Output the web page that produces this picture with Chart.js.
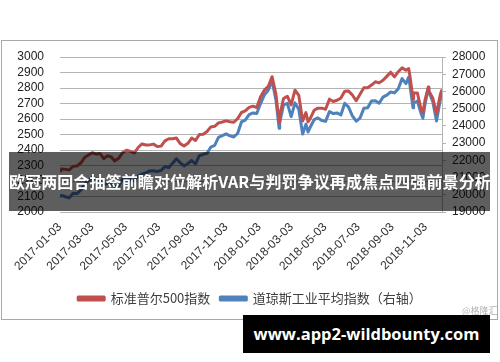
<!DOCTYPE html>
<html>
<head>
<meta charset="utf-8">
<script src="https://cdn.jsdelivr.net/npm/chart.js@4.4.0/dist/chart.umd.min.js"></script>
<style>
  html, body { margin: 0; padding: 0; background: #fff; }
  #wrap { position: relative; width: 500px; height: 362px; overflow: hidden; }
  #frame { position: absolute; left: 1px; top: 40px; width: 497px; height: 280px; box-sizing: border-box; border: 1px solid #a8a8a8; }
  #chart { position: absolute; left: 0; top: 0; }
  #banner { position: absolute; left: 9px; top: 152px; width: 481px; height: 59px; background: rgba(0, 0, 0, 0.63);
    color: #fff; font: bold 16px "Noto Sans CJK SC", sans-serif; line-height: 59px; white-space: nowrap; text-align: center; letter-spacing: 0.1px; }
  #site { position: absolute; left: 243px; top: 315px; width: 247px; height: 38px; background: #000;
    color: #fff; font: bold 16.5px "Open Sans", "Liberation Sans", sans-serif; line-height: 38px; text-align: center; white-space: nowrap; }
  #mark { position: absolute; left: 462px; top: 306px; color: #b0b0b0; font: 9px/9px "Noto Sans CJK SC", sans-serif; }
</style>
</head>
<body>
<div id="wrap">
  <div id="frame"></div>
  <canvas id="chart" width="500" height="362"></canvas>
  <div id="mark">@格隆汇</div>
  <div id="banner">欧冠两回合抽签前瞻对位解析VAR与判罚争议再成焦点四强前景分析</div>
  <div id="site">www.app2-wildbounty.com</div>
</div>
<script>
// weekly closes (plus a few turning points)
const dates = [
  '2017-01-03', '2017-01-06', '2017-01-13', '2017-01-20', '2017-01-27', '2017-02-03', '2017-02-10', '2017-02-17',
  '2017-02-24', '2017-03-03', '2017-03-10', '2017-03-17', '2017-03-24', '2017-03-31', '2017-04-07', '2017-04-13',
  '2017-04-21', '2017-04-28', '2017-05-05', '2017-05-12', '2017-05-19', '2017-05-26', '2017-06-02', '2017-06-09',
  '2017-06-16', '2017-06-23', '2017-06-30', '2017-07-07', '2017-07-14', '2017-07-21', '2017-07-28', '2017-08-04',
  '2017-08-11', '2017-08-18', '2017-08-25', '2017-09-01', '2017-09-08', '2017-09-15', '2017-09-22', '2017-09-29',
  '2017-10-06', '2017-10-13', '2017-10-20', '2017-10-27', '2017-11-03', '2017-11-10', '2017-11-17', '2017-11-24',
  '2017-12-01', '2017-12-08', '2017-12-15', '2017-12-22', '2017-12-29',
  '2018-01-05', '2018-01-12', '2018-01-19', '2018-01-26', '2018-02-02', '2018-02-08', '2018-02-09', '2018-02-16',
  '2018-02-23', '2018-03-02', '2018-03-09', '2018-03-16', '2018-03-23', '2018-03-29', '2018-04-02', '2018-04-06',
  '2018-04-13', '2018-04-20', '2018-04-27', '2018-05-04', '2018-05-11', '2018-05-18', '2018-05-25', '2018-06-01',
  '2018-06-08', '2018-06-15', '2018-06-22', '2018-06-29', '2018-07-06', '2018-07-13', '2018-07-20', '2018-07-27',
  '2018-08-03', '2018-08-10', '2018-08-17', '2018-08-24', '2018-08-31', '2018-09-07', '2018-09-14', '2018-09-21',
  '2018-09-28', '2018-10-03', '2018-10-05', '2018-10-11', '2018-10-12', '2018-10-19', '2018-10-26', '2018-10-29',
  '2018-11-02', '2018-11-08', '2018-11-09', '2018-11-16', '2018-11-23', '2018-11-30', '2018-12-03',
];
const sp500 = [
  2258, 2277, 2275, 2271, 2295, 2297, 2316, 2351,
  2367, 2383, 2373, 2378, 2344, 2363, 2355, 2329,
  2349, 2384, 2399, 2391, 2382, 2416, 2439, 2432,
  2433, 2438, 2423, 2425, 2459, 2473, 2472, 2477,
  2441, 2426, 2443, 2477, 2461, 2500, 2502, 2519,
  2549, 2553, 2575, 2581, 2588, 2582, 2579, 2602,
  2642, 2652, 2675, 2683, 2674,
  2743, 2786, 2810, 2873, 2762, 2581, 2620, 2732,
  2747, 2691, 2786, 2752, 2588, 2641, 2582, 2604,
  2656, 2670, 2670, 2663, 2728, 2713, 2721, 2735,
  2779, 2780, 2755, 2718, 2760, 2801, 2802, 2819,
  2840, 2833, 2850, 2875, 2902, 2872, 2905, 2930,
  2914, 2926, 2885, 2728, 2767, 2768, 2658, 2641,
  2723, 2807, 2781, 2736, 2633, 2760, 2790,
];
const dow = [
  19882, 19964, 19886, 19827, 20094, 20071, 20269, 20624,
  20821, 21005, 20903, 20915, 20596, 20663, 20656, 20453,
  20548, 20941, 21007, 20897, 20805, 21080, 21206, 21272,
  21384, 21395, 21350, 21414, 21638, 21580, 21830, 22093,
  21858, 21675, 21814, 21988, 21798, 22268, 22350, 22405,
  22774, 22871, 23329, 23434, 23539, 23422, 23358, 23558,
  24231, 24329, 24652, 24754, 24719,
  25296, 25803, 26072, 26617, 25521, 23860, 24191, 25219,
  25310, 24538, 25336, 24947, 23533, 24103, 23644, 23933,
  24360, 24463, 24311, 24263, 24831, 24715, 24753, 24635,
  25317, 25090, 24581, 24271, 24456, 25019, 25058, 25451,
  25463, 25313, 25669, 25790, 25965, 25917, 26155, 26744,
  26458, 26828, 26447, 25053, 25340, 25444, 24688, 24443,
  25270, 26191, 25989, 25413, 24286, 25538, 25826,
];
const tickDates = [
  '2017-01-03', '2017-03-03', '2017-05-03', '2017-07-03', '2017-09-03', '2017-11-03',
  '2018-01-03', '2018-03-03', '2018-05-03', '2018-07-03', '2018-09-03', '2018-11-03',
];
const seriesNames = ['标准普尔500指数', '道琼斯工业平均指数（右轴）'];

const dayOf = (d) => (Date.parse(d) - Date.parse(dates[0])) / 86400000;

Chart.defaults.font.family = '"Liberation Sans", "Noto Sans CJK SC", sans-serif';
Chart.defaults.font.size = 12;
Chart.defaults.color = '#222';

const gridColor = '#b4b4b4';

new Chart(document.querySelector('#chart'), {
  type: 'line',
  data: {
    datasets: [{
      label: seriesNames[0],
      data: dates.map((d, i) => ({x: dayOf(d), y: sp500[i]})),
      yAxisID: 'y',
      borderColor: '#c0504d',
      backgroundColor: '#c0504d',
      borderWidth: 3,
    }, {
      label: seriesNames[1],
      data: dates.map((d, i) => ({x: dayOf(d), y: dow[i]})),
      yAxisID: 'y2',
      borderColor: '#4f81bd',
      backgroundColor: '#4f81bd',
      borderWidth: 3,
    }],
  },
  options: {
    responsive: false,
    animation: false,
    elements: {
      point: {radius: 0},
      line: {tension: 0, borderJoinStyle: 'round'},
    },
    layout: {
      padding: {top: 57, left: 0, right: 0, bottom: 47},
    },
    scales: {
      x: {
        type: 'linear',
        min: 0,
        max: dayOf(dates[dates.length - 1]),
        afterBuildTicks: (scale) => {
          scale.ticks = tickDates.map((d) => ({value: dayOf(d)}));
        },
        afterFit: (scale) => { scale.height = 70; },
        grid: {display: false, drawTicks: false},
        border: {display: false},
        ticks: {
          autoSkip: false,
          minRotation: 45,
          maxRotation: 45,
          padding: 8,
          color: '#333',
          callback: (value, index) => tickDates[index],
        },
      },
      y: {
        position: 'left',
        min: 2000,
        max: 3000,
        afterFit: (scale) => { scale.width = 60; },
        grid: {color: gridColor, drawTicks: false},
        border: {display: false},
        ticks: {stepSize: 100, padding: 16, autoSkip: false, callback: (v) => String(v)},
      },
      y2: {
        position: 'right',
        min: 19000,
        max: 28000,
        afterFit: (scale) => { scale.width = 58; },
        grid: {drawOnChartArea: false, color: gridColor, tickLength: 4},
        border: {display: true, color: gridColor},
        ticks: {stepSize: 1000, padding: 6, autoSkip: false, callback: (v) => String(v)},
      },
    },
    plugins: {
      tooltip: {enabled: false},
      legend: {
        position: 'bottom',
        labels: {
          boxWidth: 26,
          boxHeight: 3,
          padding: 10,
          color: '#404040',
          font: {size: 13, family: '"Noto Sans CJK SC", sans-serif'},
        },
      },
    },
  },
});
</script>
</body>
</html>
